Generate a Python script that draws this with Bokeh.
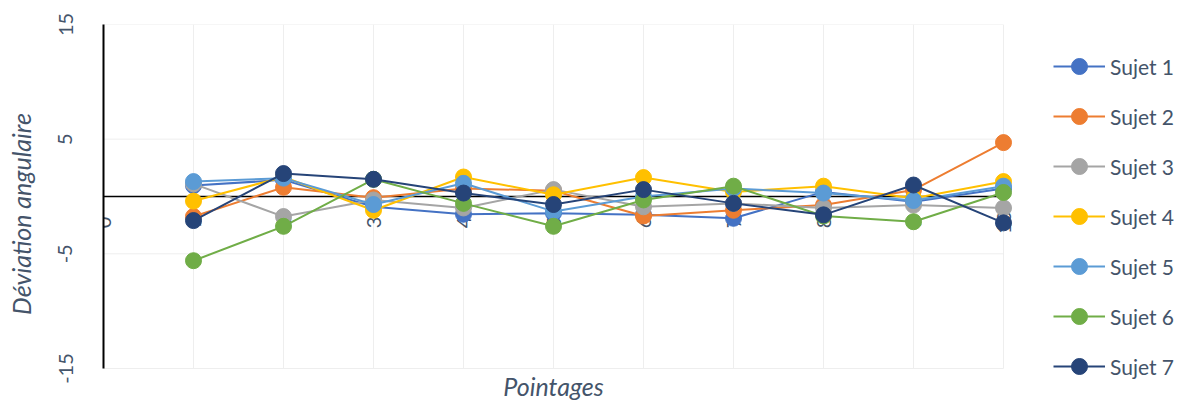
import math
from bokeh.plotting import figure
from bokeh.models import (Range1d, FixedTicker, Legend, LegendItem, Label,
                          ColumnDataSource)
from bokeh.core.properties import value
from bokeh.embed import file_html
from bokeh.resources import INLINE

# ---- data ----
pointages = [1, 2, 3, 4, 5, 6, 7, 8, 9, 10]
sujet_1 = [0.95, 1.45, -0.9, -1.55, -1.45, -1.6, -1.9, 0.4, -0.45, 0.7]
sujet_2 = [-1.75, 0.8, -0.1, 0.7, 0.5, -1.7, -1.2, -0.75, 0.57, 4.7]
sujet_3 = [1.1, -1.75, -0.3, -1.0, 0.6, -0.9, -0.6, -1.0, -0.75, -1.0]
sujet_4 = [-0.4, 1.7, -1.2, 1.7, 0.15, 1.65, 0.4, 0.9, -0.15, 1.3]
sujet_5 = [1.3, 1.6, -0.7, 1.15, -1.3, 0.0, 0.7, 0.3, -0.35, 0.9]
sujet_6 = [-5.6, -2.6, 1.5, -0.6, -2.6, -0.3, 0.9, -1.7, -2.2, 0.35]
sujet_7 = [-2.1, 2.0, 1.5, 0.3, -0.7, 0.6, -0.6, -1.6, 1.0, -2.3]
series_names = ["Sujet 1", "Sujet 2", "Sujet 3", "Sujet 4", "Sujet 5", "Sujet 6", "Sujet 7"]
series_values = [sujet_1, sujet_2, sujet_3, sujet_4, sujet_5, sujet_6, sujet_7]
colors = ["#4472C4", "#ED7D31", "#A5A5A5", "#FFC000", "#5B9BD5", "#70AD47", "#264478"]
x_tick_values = [0, 1, 2, 3, 4, 5, 6, 7, 8, 9, 10]
x_tick_labels = ["0", "1", "2", "3", "4", "5", "6", "7", "8", "9", "10"]
y_tick_values = [-15, -5, 5, 15]
y_tick_labels = ["-15", "-5", "5", "15"]

TXT = "#44546A"
FONT = "Lato"
GRID = "#EEEEEE"

# ---- layout geometry (pixels) ----
W, H = 1187, 403
LEFT, TOP = 103, 24          # plot-area origin
PLOT_W, PLOT_H = 900, 344    # area holding x 0..10, y -15..15
X0, X1 = 0, 10
Y0, Y1 = -15, 15
px_x = PLOT_W / (X1 - X0)
px_y = PLOT_H / (Y1 - Y0)
frame_w = W - LEFT
frame_h = H - TOP
x_end = X0 + frame_w / px_x
y_start = Y1 - frame_h / px_y

p = figure(width=W, height=H, output_backend="svg", toolbar_location=None,
           x_range=Range1d(X0, x_end), y_range=Range1d(y_start, Y1),
           min_border_left=LEFT, min_border_right=0, min_border_top=TOP,
           min_border_bottom=0)
p.outline_line_color = None
p.background_fill_color = "white"
p.xaxis.visible = False
p.xgrid.visible = False
p.ygrid.visible = False

# grid lines restricted to the plot area
p.segment(x0=x_tick_values[1:], x1=x_tick_values[1:],
          y0=[Y0] * 10, y1=[Y1] * 10, line_color=GRID, line_width=1,
          level="underlay")
p.segment(x0=[X0] * len(y_tick_values), x1=[X1] * len(y_tick_values),
          y0=y_tick_values, y1=y_tick_values, line_color=GRID, line_width=1,
          level="underlay")
# horizontal axis line at y = 0
p.segment(x0=[X0], x1=[X1], y0=[0], y1=[0], line_color="black",
          line_width=1.5, level="underlay")

yax = p.yaxis[0]
yax.bounds = (Y0, Y1)
yax.ticker = FixedTicker(ticks=y_tick_values)
yax.major_label_overrides = dict(zip(y_tick_values, y_tick_labels))
yax.major_label_orientation = "vertical"
yax.major_tick_out = 0
yax.major_tick_in = 0
yax.minor_tick_out = 0
yax.minor_tick_in = 0
yax.axis_line_color = "black"
yax.axis_line_width = 2
yax.major_label_standoff = 31
yax.major_label_text_font = FONT
yax.major_label_text_font_size = "20px"
yax.major_label_text_color = TXT
yax.axis_label = "Déviation angulaire"
yax.axis_label_text_font = FONT
yax.axis_label_text_font_size = "25px"
yax.axis_label_text_font_style = "italic"
yax.axis_label_text_color = TXT
yax.axis_label_standoff = 20

# x tick labels along y=0
src_ticks = ColumnDataSource(dict(x=x_tick_values, y=[0] * len(x_tick_values),
                                  t=x_tick_labels))
p.text(x="x", y="y", text="t", source=src_ticks, angle=math.pi / 2,
       text_align="center", text_baseline="middle", y_offset=26,
       text_font=value(FONT), text_font_size="20px", text_color=TXT)

items = []
for name, vals, col in zip(series_names, series_values, colors):
    src = ColumnDataSource(dict(x=pointages, y=vals))
    lr = p.line("x", "y", source=src, line_color=col, line_width=2)
    sr = p.scatter("x", "y", source=src, size=16, fill_color=col, line_color=col)
    items.append(LegendItem(label=name, renderers=[lr, sr]))

legend = Legend(items=items, location=(950, 17), orientation="vertical",
                glyph_width=52, glyph_height=40, label_height=40,
                spacing=10, padding=0, margin=0, label_standoff=5,
                border_line_color=None, background_fill_alpha=0,
                label_text_font=FONT, label_text_font_size="21px",
                label_text_color=TXT)
p.add_layout(legend)

# x axis title
p.add_layout(Label(x=(X0 + X1) / 2, y=Y0 - 17 / px_y, text="Pointages",
                   text_align="center", text_baseline="alphabetic",
                   text_font=FONT, text_font_size="25px",
                   text_font_style="italic", text_color=TXT))

open("out.html", "w").write(file_html(p, INLINE))
